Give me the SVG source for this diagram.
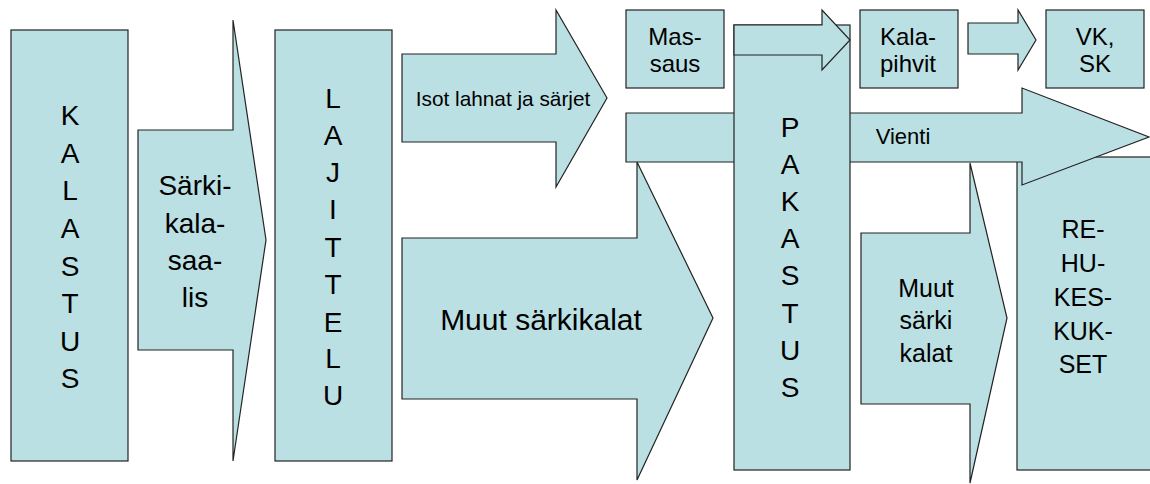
<svg xmlns="http://www.w3.org/2000/svg" width="1150" height="484" viewBox="0 0 1150 484">
<style>
.s{fill:#BBE0E3;stroke:#222;stroke-width:1.2}
text{font-family:"Liberation Sans",Arial,sans-serif;fill:#000;text-anchor:middle}
.f28{font-size:28px}
.f30{font-size:30px}
.f25{font-size:25px}
.f24{font-size:24px}
.f21{font-size:20.8px}
.f22{font-size:22px}
</style>
<rect width="1150" height="484" fill="#fff"/>
<g id="kalastus">
<rect class="s" x="11" y="30" width="117" height="431"/>
<text class="f28" x="70"><tspan x="70" y="125">K</tspan><tspan x="70" y="163">A</tspan><tspan x="70" y="200">L</tspan><tspan x="70" y="238">A</tspan><tspan x="70" y="276">S</tspan><tspan x="70" y="313">T</tspan><tspan x="70" y="351">U</tspan><tspan x="70" y="388">S</tspan></text>
</g>
<g id="connectors">
<g id="sarkikalasaalis">
<path class="s" d="M138,130 L233,130 L233,20 L266,240 L233,461 L233,350 L138,350 Z"/>
<text class="f28"><tspan x="195" y="195">Särki-</tspan><tspan x="195" y="233">kala-</tspan><tspan x="195" y="270">saa-</tspan><tspan x="195" y="307">lis</tspan></text>
</g>
</g>
<g id="lajittelu">
<rect class="s" x="275" y="30" width="117" height="431"/>
<text class="f28"><tspan x="333" y="108">L</tspan><tspan x="333" y="145">A</tspan><tspan x="333" y="182">J</tspan><tspan x="333" y="219">I</tspan><tspan x="333" y="257">T</tspan><tspan x="333" y="294">T</tspan><tspan x="333" y="332">E</tspan><tspan x="333" y="368">L</tspan><tspan x="333" y="405">U</tspan></text>
</g>
<g id="arrows">
<g id="isot">
<path class="s" d="M402,54 L556,54 L556,10 L607,98 L556,187 L556,142 L402,142 Z"/>
<text class="f21" x="503" y="106">Isot lahnat ja särjet</text>
</g>
<g id="muut-big">
<path class="s" d="M402,238 L637,238 L637,162 L713,318 L637,480 L637,399 L402,399 Z"/>
<text class="f30" x="541" y="330">Muut särkikalat</text>
</g>
</g>
<g id="massaus">
<rect class="s" x="626" y="10" width="98" height="78"/>
<text class="f24"><tspan x="675" y="45">Mas-</tspan><tspan x="675" y="72">saus</tspan></text>
</g>
<g id="rehukeskukset">
<rect class="s" x="1017" y="157" width="140" height="313"/>
<text class="f25"><tspan x="1083" y="238">RE-</tspan><tspan x="1083" y="272">HU-</tspan><tspan x="1083" y="306">KES-</tspan><tspan x="1083" y="340">KUK-</tspan><tspan x="1083" y="373">SET</tspan></text>
</g>
<g id="vienti">
<path class="s" d="M626,113 L1022,113 L1022,88 L1149,137 L1022,185 L1022,162 L626,162 Z"/>
<text class="f22" x="903" y="144">Vienti</text>
</g>
<g id="muut-small">
<path class="s" d="M861,233 L970,233 L970,163 L1007,318 L970,483 L970,404 L861,404 Z"/>
<text class="f25"><tspan x="926" y="297">Muut</tspan><tspan x="926" y="329">särki</tspan><tspan x="926" y="362">kalat</tspan></text>
</g>
<g id="pakastus">
<rect class="s" x="734" y="25" width="116" height="445"/>
<text class="f28"><tspan x="790" y="137">P</tspan><tspan x="790" y="174">A</tspan><tspan x="790" y="211">K</tspan><tspan x="790" y="248">A</tspan><tspan x="790" y="285">S</tspan><tspan x="790" y="323">T</tspan><tspan x="790" y="360">U</tspan><tspan x="790" y="397">S</tspan></text>
</g>
<g id="top-arrows">
<path class="s" d="M734,25 L822,25 L822,10 L850,40 L822,70 L822,55 L734,55 Z"/>
<path class="s" d="M968,23 L1018,23 L1018,10 L1036,40 L1018,70 L1018,54 L968,54 Z"/>
</g>
<g id="kalapihvit">
<rect class="s" x="860" y="10" width="98" height="78"/>
<text class="f24"><tspan x="908" y="45">Kala-</tspan><tspan x="908" y="72">pihvit</tspan></text>
</g>
<g id="vksk">
<rect class="s" x="1046" y="10" width="98" height="78"/>
<text class="f24"><tspan x="1095" y="45">VK,</tspan><tspan x="1095" y="72">SK</tspan></text>
</g>
</svg>
